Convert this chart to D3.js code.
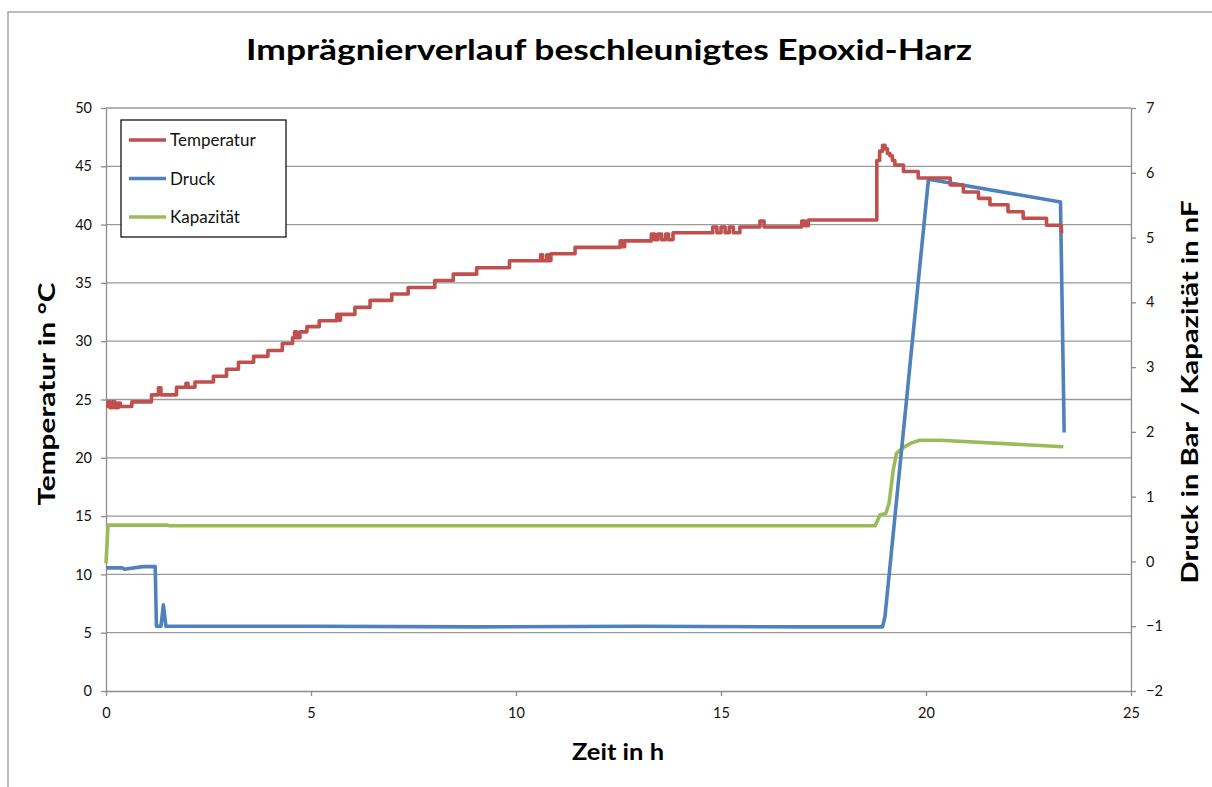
<!DOCTYPE html>
<html>
<head>
<meta charset="utf-8">
<script src="https://cdn.jsdelivr.net/npm/d3@7"></script>
<style>
  body { margin: 0; background: #fff; }
  text { font-family: "Lato", "Open Sans", sans-serif; }
</style>
</head>
<body>
<div id="chart"></div>
<script>
// Temperatur (°C) – step points [Zeit h, Wert]
var tempData = [
  [0, 24.4], [0.05, 24.8], [0.1, 24.3], [0.15, 24.8], [0.22, 24.3], [0.3, 24.7], [0.35, 24.4],
  [0.63, 24.8], [1.11, 25.4], [1.28, 26.0], [1.34, 25.4], [1.72, 26.05], [1.95, 26.4], [2.0, 26.05],
  [2.17, 26.5], [2.62, 27.0], [2.94, 27.6], [3.23, 28.2], [3.6, 28.7], [3.95, 29.2], [4.3, 29.8],
  [4.55, 30.3], [4.6, 30.8], [4.65, 30.3], [4.73, 30.8], [4.9, 31.25], [5.2, 31.75], [5.63, 32.3],
  [5.68, 31.8], [5.72, 32.3], [6.07, 32.9], [6.44, 33.5], [6.97, 34.05], [7.37, 34.6], [8.02, 35.2],
  [8.47, 35.75], [9.04, 36.3], [9.84, 36.9], [10.6, 37.4], [10.65, 36.9], [10.75, 37.4], [10.8, 36.9],
  [10.85, 37.5], [11.44, 38.05], [12.54, 38.6], [12.6, 38.1], [12.65, 38.6], [13.3, 39.2],
  [13.38, 38.7], [13.46, 39.2], [13.55, 38.7], [13.65, 39.2], [13.72, 38.7], [13.83, 39.3],
  [14.8, 39.8], [14.9, 39.3], [15.0, 39.8], [15.1, 39.3], [15.2, 39.8], [15.3, 39.3], [15.46, 39.8],
  [15.95, 40.3], [16.05, 39.8], [16.97, 40.3], [17.05, 39.9], [17.13, 40.4], [18.76, 40.4],
  [18.8, 45.5], [18.87, 46.3], [18.94, 46.8], [19.0, 46.5], [19.06, 46.1], [19.12, 45.9],
  [19.18, 45.5], [19.24, 45.1], [19.45, 44.55], [19.81, 44.0], [20.59, 43.4], [20.91, 42.8],
  [21.28, 42.25], [21.56, 41.7], [22.0, 41.1], [22.37, 40.55], [22.94, 39.95], [23.3, 39.4],
  [23.35, 39.4]
];

// Druck (bar) – [Zeit h, Wert]
var druckData = [
  [0, -0.1], [0.4, -0.1], [0.45, -0.12], [0.9, -0.08], [1.2, -0.08], [1.23, -1.0], [1.34, -1.0],
  [1.4, -0.67], [1.46, -1.0], [5, -1.0], [9, -1.01], [13, -1.0], [17, -1.01], [18.94, -1.01],
  [19.0, -0.85], [20.06, 5.9], [23.28, 5.55], [23.37, 1.99]
];

// Kapazität (nF) – [Zeit h, Wert]
var kapData = [
  [0, -0.03], [0.05, 0.56], [1.5, 0.56], [1.55, 0.55], [18.76, 0.55], [18.88, 0.72], [19.02, 0.74],
  [19.1, 0.9], [19.2, 1.41], [19.28, 1.67], [19.45, 1.76], [19.65, 1.83], [19.85, 1.87],
  [20.34, 1.87], [23.35, 1.77]
];

var xTicks = [0, 5, 10, 15, 20, 25];
var leftTicks = [0, 5, 10, 15, 20, 25, 30, 35, 40, 45, 50];
var rightTicks = [-2, -1, 0, 1, 2, 3, 4, 5, 6, 7];

var seriesNames = ["Temperatur", "Druck", "Kapazität"];
var seriesColors = ["#c0504d", "#4f81bd", "#9bbb59"];

createChart();

function createChart() {
  var width = 1212;
  var height = 787;
  var margin = { left: 106, right: 1131, top: 108, bottom: 691 };

  var svg = d3.select("#chart").append("svg")
    .attr("width", width)
    .attr("height", height);

  // outer chart frame
  svg.append("rect")
    .attr("x", 8).attr("y", 12)
    .attr("width", 1220).attr("height", 800)
    .attr("fill", "none")
    .attr("stroke", "#a6a6a6")
    .attr("stroke-width", 1.5);

  var x = d3.scaleLinear().domain([0, 25]).range([margin.left, margin.right]);
  var yL = d3.scaleLinear().domain([0, 50]).range([margin.bottom, margin.top]);
  var yR = d3.scaleLinear().domain([-2, 7]).range([margin.bottom, margin.top]);

  // grid lines
  svg.append("g").selectAll("line")
    .data(leftTicks.slice(1))
    .join("line")
    .attr("x1", margin.left).attr("x2", margin.right)
    .attr("y1", d => yL(d)).attr("y2", d => yL(d))
    .attr("stroke", "#9a9a9a")
    .attr("stroke-width", 1.3);

  var axisStyle = function (g) {
    g.select(".domain").attr("stroke", "#8c8c8c").attr("stroke-width", 1.3);
    g.selectAll(".tick line").attr("stroke", "#8c8c8c").attr("stroke-width", 1.3);
    g.selectAll(".tick text").attr("fill", "#111").attr("font-size", 14.5);
  };

  svg.append("g")
    .attr("transform", "translate(0," + margin.bottom + ")")
    .call(d3.axisBottom(x).tickValues(xTicks).tickSize(5).tickSizeOuter(0).tickPadding(12))
    .call(axisStyle);

  svg.append("g")
    .attr("transform", "translate(" + margin.left + ",0)")
    .call(d3.axisLeft(yL).tickValues(leftTicks).tickSize(5).tickSizeOuter(0).tickPadding(9))
    .call(axisStyle);

  svg.append("g")
    .attr("transform", "translate(" + margin.right + ",0)")
    .call(d3.axisRight(yR).tickValues(rightTicks).tickSize(5).tickSizeOuter(0).tickPadding(10))
    .call(axisStyle);

  // series
  var lineR = d3.line().x(d => x(d[0])).y(d => yR(d[1]));
  var stepL = d3.line().x(d => x(d[0])).y(d => yL(d[1])).curve(d3.curveStepAfter);

  svg.append("path")
    .attr("d", lineR(kapData))
    .attr("fill", "none")
    .attr("stroke", seriesColors[2])
    .attr("stroke-width", 3.6)
    .attr("stroke-linejoin", "round");

  svg.append("path")
    .attr("d", lineR(druckData))
    .attr("fill", "none")
    .attr("stroke", seriesColors[1])
    .attr("stroke-width", 3.6)
    .attr("stroke-linejoin", "round");

  svg.append("path")
    .attr("d", stepL(tempData))
    .attr("fill", "none")
    .attr("stroke", seriesColors[0])
    .attr("stroke-width", 3.6)
    .attr("stroke-linejoin", "round");

  // legend
  var legend = svg.append("g");
  legend.append("rect")
    .attr("x", 121).attr("y", 120)
    .attr("width", 165).attr("height", 117)
    .attr("fill", "#fff")
    .attr("stroke", "#000")
    .attr("stroke-width", 1.2);

  seriesNames.forEach(function (name, i) {
    var cy = 140 + i * 38.5;
    legend.append("line")
      .attr("x1", 129).attr("x2", 166)
      .attr("y1", cy).attr("y2", cy)
      .attr("stroke", seriesColors[i])
      .attr("stroke-width", 3.6);
    legend.append("text")
      .attr("x", 170).attr("y", cy + 6)
      .attr("font-size", 17)
      .attr("fill", "#111")
      .text(name);
  });

  // titles
  svg.append("text")
    .attr("x", 609).attr("y", 60)
    .attr("text-anchor", "middle")
    .attr("font-size", 29)
    .attr("font-weight", "bold")
    .attr("textLength", 726)
    .attr("lengthAdjust", "spacingAndGlyphs")
    .text("Imprägnierverlauf beschleunigtes Epoxid-Harz");

  svg.append("text")
    .attr("x", 618).attr("y", 760)
    .attr("text-anchor", "middle")
    .attr("font-size", 22)
    .attr("font-weight", "bold")
    .attr("textLength", 92)
    .attr("lengthAdjust", "spacingAndGlyphs")
    .text("Zeit in h");

  svg.append("text")
    .attr("transform", "translate(55,394) rotate(-90)")
    .attr("text-anchor", "middle")
    .attr("font-size", 22)
    .attr("font-weight", "bold")
    .attr("textLength", 223)
    .attr("lengthAdjust", "spacingAndGlyphs")
    .text("Temperatur in °C");

  svg.append("text")
    .attr("transform", "translate(1198,392) rotate(-90)")
    .attr("text-anchor", "middle")
    .attr("font-size", 22)
    .attr("font-weight", "bold")
    .attr("textLength", 383)
    .attr("lengthAdjust", "spacingAndGlyphs")
    .text("Druck in Bar / Kapazität in nF");
}
</script>
</body>
</html>
